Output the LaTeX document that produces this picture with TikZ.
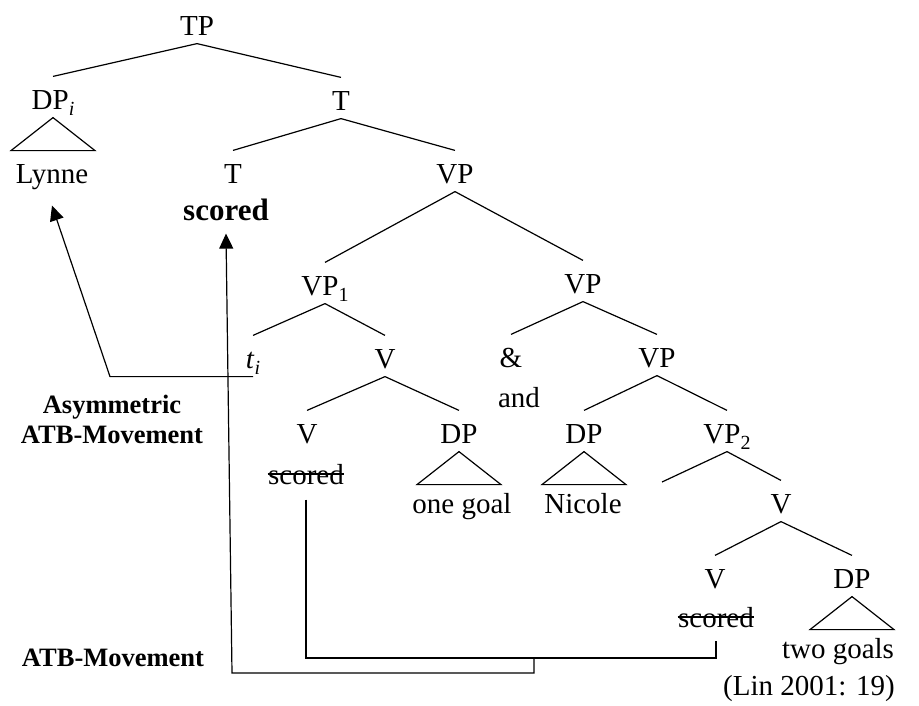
\documentclass[tikz,border=0pt]{standalone}
\usepackage{fontspec}
\setmainfont{Liberation Serif}
\usetikzlibrary{arrows.meta}
\newcommand{\sub}[1]{\raisebox{-0.22em}{\fontsize{20}{20}\selectfont #1}}

\begin{document}
\begin{tikzpicture}[x=1pt,y=-1pt,line width=1.2pt,
            font=\fontsize{29}{34}\selectfont,
            cat/.style={anchor=base, inner sep=0pt, text height=32pt, text depth=8pt},
            note/.style={anchor=base, inner sep=0pt, font=\fontsize{26.5}{30}\selectfont\bfseries},
            mv/.style={-{Triangle[length=15pt,width=14pt]}}]
        \useasboundingbox (0,0) rectangle (919,705);

        % the tree
        \node[cat] (tp) at (197,35) {TP};
        \node[cat] (dpi) at (53,109) {DP\sub{\textit{i}}};
        \node[cat] (t2) at (341,110) {T};
        \node[cat] (lynne) at (52,183) {Lynne};
        \node[cat] (t3) at (233,183) {T};
        \node[cat] (scb) at (226,220) {\fontsize{31}{34}\selectfont\bfseries scored};
        \node[cat] (vp) at (455,183) {VP};
        \node[cat] (vp1) at (325,295) {VP\sub{1}};
        \node[cat] (ti) at (253,368) {\textit{t}\sub{\textit{i}}};
        \node[cat] (v1) at (385,368) {V};
        \node[cat] (v2) at (307,443) {V};
        \node[cat] (dp1) at (459,443) {DP};
        \node[cat] (s1) at (306,484) {scored};
        \node[cat] (goal1) at (462,513) {one goal};
        \node[cat] (vpr) at (583,293) {VP};
        \node[cat] (amp) at (511,367) {\&};
        \node[cat] (conj) at (519,407) {and};
        \node[cat] (vp3) at (657,367) {VP};
        \node[cat] (dp2) at (584,443) {DP};
        \node[cat] (nicole) at (583,513) {Nicole};
        \node[cat] (vp2) at (727,443) {VP\sub{2}};
        \coordinate (spec) at (662,482);
        \node[cat] (v3) at (781,513) {V};
        \node[cat] (v4) at (715,588) {V};
        \node[cat] (dp3) at (852,588) {DP};
        \node[cat] (s2) at (716,627) {scored};
        \node[cat] (goal2) at (838,658) {two goals};
        \node[cat] (cite) at (809,695) {(Lin 2001: 19)};

        \draw (tp.south) -- (dpi.north);
        \draw (tp.south) -- (t2.north);
        \draw (t2.south) -- (t3.north);
        \draw (t2.south) -- (vp.north);
        \draw (vp.south) -- (vp1.north);
        \draw (vp.south) -- (vpr.north);
        \draw (vp1.south) -- (ti.north);
        \draw (vp1.south) -- (v1.north);
        \draw (v1.south) -- (v2.north);
        \draw (v1.south) -- (dp1.north);
        \draw (vpr.south) -- (amp.north);
        \draw (vpr.south) -- (vp3.north);
        \draw (vp3.south) -- (dp2.north);
        \draw (vp3.south) -- (vp2.north);
        \draw (vp2.south) -- (spec);
        \draw (vp2.south) -- (v3.north);
        \draw (v3.south) -- (v4.north);
        \draw (v3.south) -- (dp3.north);

        \foreach \n in {dpi,dp1,dp2,dp3}
            \draw (\n.south) -- ++(-42,33) -- ++(84,0) -- cycle;

        \foreach \n in {s1,s2}
            \draw ([yshift=10pt]\n.base west) -- ([yshift=10pt]\n.base east);

        % movement
        \node[note] (asym) at (112,413) {Asymmetric};
        \node[note] (asym2) at (112,443) {ATB-Movement};
        \node[note] (atb) at (113,666) {ATB-Movement};

        \draw[mv] (ti.south) -- ++(-143,0) -- ([yshift=-14pt]lynne.south);

        \coordinate (fork) at (534,658);
        \draw ([yshift=-7pt]s1.south) |- (fork) -| ([yshift=-5pt]s2.south);
        \draw[mv] (fork) -- ++(0,15) -- ++(-302,0) -- ([yshift=-5pt]scb.south);
\end{tikzpicture}
\end{document}
